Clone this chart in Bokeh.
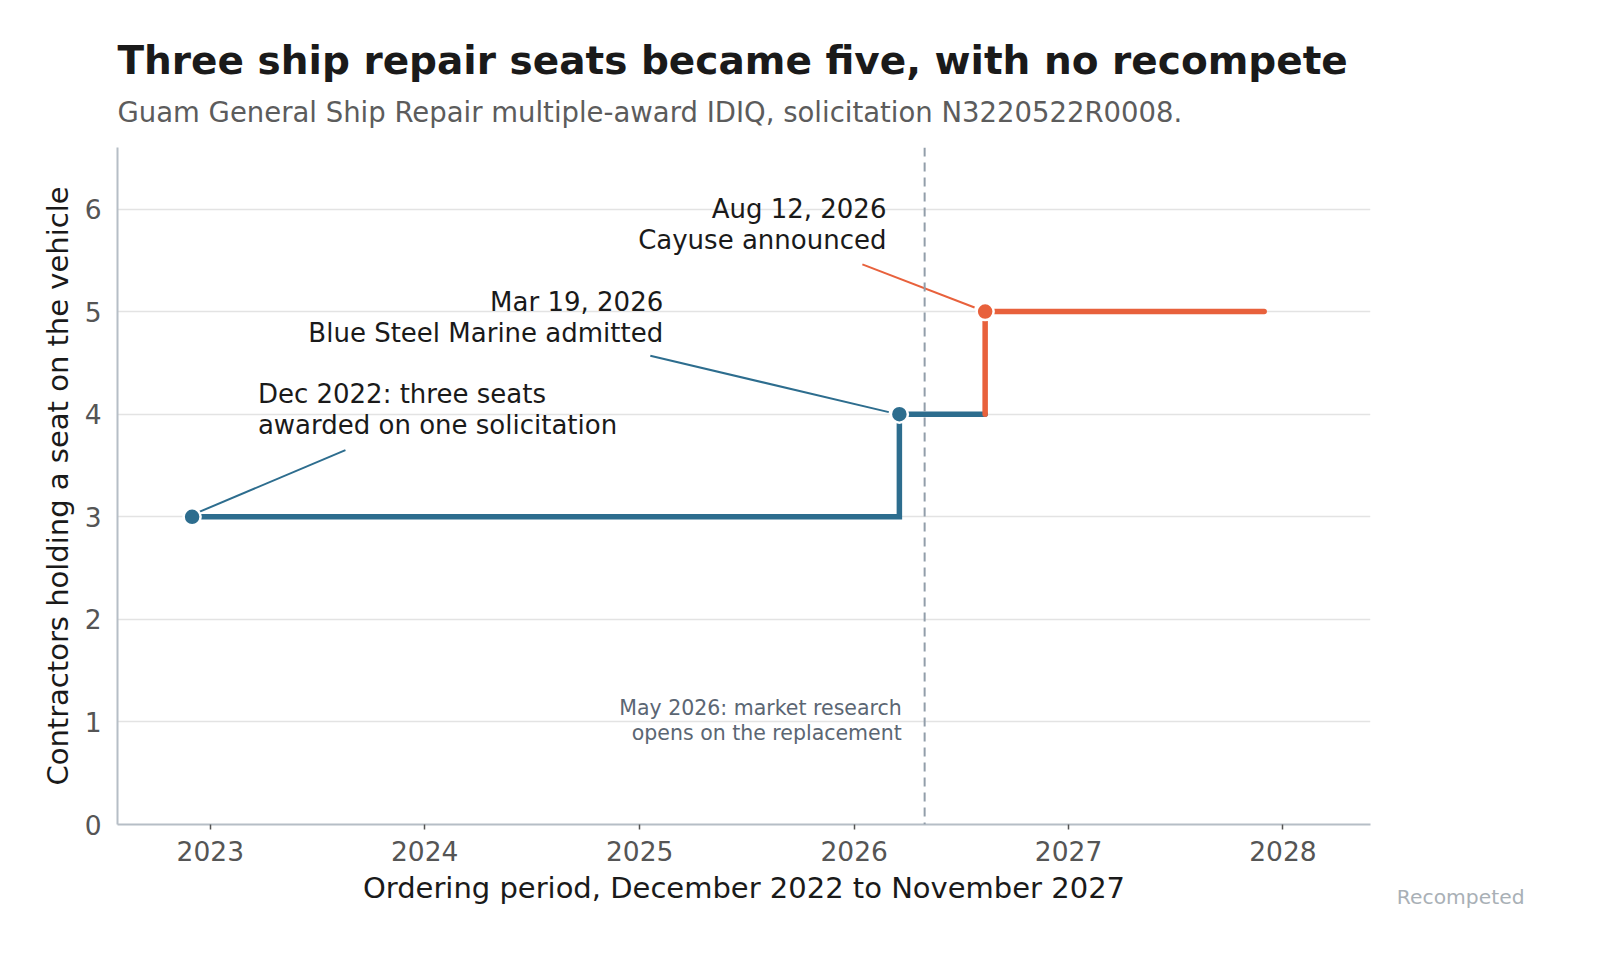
import numpy as np
import pandas as pd
from bokeh.plotting import figure
from bokeh.models import (Range1d, FixedTicker, DatetimeTickFormatter, Span, Label,
                          Title, ColumnDataSource)
from bokeh.core.properties import value
from bokeh.embed import file_html
from bokeh.resources import INLINE

# ---------------- data ----------------
event_dates = ["2022-12-01", "2026-03-19", "2026-08-12"]
seats = [3, 4, 5]
period_end = "2027-11-30"
market_research_date = "2026-05-01"
year_ticks = [2023, 2024, 2025, 2026, 2027, 2028]
y_ticks = [0, 1, 2, 3, 4, 5, 6]

ann_texts = ["Dec 2022: three seats\nawarded on one solicitation",
             "Mar 19, 2026\nBlue Steel Marine admitted",
             "Aug 12, 2026\nCayuse announced"]
ann_text_dates = ["2023-03-23", "2025-02-10", "2026-02-25"]
ann_text_y = [4.047, 4.945, 5.845]
ann_leader_start_dates = ["2023-08-19", "2025-01-19", "2026-01-15"]
ann_leader_start_y = [3.65, 4.57, 5.46]
ann_leader_end_dates = ["2022-12-10", "2026-03-01", "2026-07-25"]
ann_leader_end_y = [3.04, 4.02, 5.04]

note_text = "May 2026: market research\nopens on the replacement"
note_date = "2026-03-23"
note_y = 1.015

# ---------------- styling ----------------
BLUE = "#2d6d8e"
ORANGE = "#e8613c"
FONT = "DejaVu Sans"


def ms(dates):
    return pd.to_datetime(dates).values.astype("datetime64[ms]").astype("int64").astype(float)


ev = ms(event_dates)
end = ms([period_end])[0]

p = figure(x_axis_type="datetime", output_backend="svg", toolbar_location=None,
           width=1560, height=960,
           min_border_left=117, min_border_right=190,
           min_border_top=147, min_border_bottom=136,
           x_range=Range1d(ms(["2022-07-27"])[0], ms(["2028-05-29"])[0]),
           y_range=Range1d(0, 6.6))
p.outline_line_color = None
p.background_fill_color = "white"
p.border_fill_color = "white"

# titles
sub = Title(text="Guam General Ship Repair multiple-award IDIQ, solicitation N3220522R0008.",
            align="left", text_font=FONT, text_font_size="27.5px",
            text_font_style="normal", text_color="#5c5c5c", standoff=40)
p.add_layout(sub, "above")
ttl = Title(text="Three ship repair seats became five, with no recompete",
            align="left", text_font=FONT, text_font_size="39px",
            text_font_style="bold", text_color="#1a1a1a", standoff=-19)
p.add_layout(ttl, "above")

# grid / axes
p.xgrid.grid_line_color = None
p.ygrid.grid_line_color = "#e3e3e3"
p.ygrid.grid_line_width = 1.5
p.yaxis.ticker = FixedTicker(ticks=y_ticks)
p.xaxis.ticker = FixedTicker(ticks=list(ms([f"{y}-01-01" for y in year_ticks])))
p.xaxis.formatter = DatetimeTickFormatter(years="%Y", months="%Y", days="%Y",
                                          hours="%Y", minutes="%Y", seconds="%Y")
for ax in (p.xaxis[0], p.yaxis[0]):
    ax.axis_line_color = "#b6bec6"
    ax.axis_line_width = 2
    ax.major_label_text_font = FONT
    ax.major_label_text_font_size = "26.5px"
    ax.major_label_text_color = "#555555"
    ax.axis_label_text_font = FONT
    ax.axis_label_text_font_size = "29px"
    ax.axis_label_text_font_style = "normal"
    ax.axis_label_text_color = "#1a1a1a"
    ax.minor_tick_line_color = None
p.xaxis.axis_label = "Ordering period, December 2022 to November 2027"
p.yaxis.axis_label = "Contractors holding a seat on the vehicle"
p.xaxis.major_tick_line_color = "#555555"
p.xaxis.major_tick_line_width = 1.5
p.xaxis.major_tick_out = 5
p.xaxis.major_tick_in = 0
p.xaxis.major_label_standoff = 11
p.xaxis.axis_label_standoff = 7
p.yaxis.major_tick_line_color = None
p.yaxis.major_tick_out = 0
p.yaxis.major_tick_in = 0
p.yaxis.major_label_standoff = 16
p.yaxis.axis_label_standoff = 7

# market research marker
p.add_layout(Span(location=ms([market_research_date])[0], dimension="height",
                  line_color="#929eaa", line_width=2, line_dash="9 6"))
p.add_layout(Label(x=ms([note_date])[0], y=note_y, text=note_text,
                   text_align="right", text_baseline="middle",
                   text_font=FONT, text_font_size="20.5px",
                   text_color="#5b6673", text_line_height=1.05))

# steps
blue_x = [ev[0], ev[1], ev[1], ev[2]]
blue_y = [seats[0], seats[0], seats[1], seats[1]]
orange_x = [ev[2], ev[2], end]
orange_y = [seats[1], seats[2], seats[2]]
p.line(blue_x, blue_y, line_color=BLUE, line_width=5.5, line_cap="round", line_join="miter")
p.line(orange_x, orange_y, line_color=ORANGE, line_width=5.5, line_cap="round", line_join="miter")

# leader lines
leader_colors = [BLUE, BLUE, ORANGE]
p.segment(x0=ms(ann_leader_start_dates), y0=ann_leader_start_y,
          x1=ms(ann_leader_end_dates), y1=ann_leader_end_y,
          line_color=leader_colors, line_width=2)

# markers
marker_colors = [BLUE, BLUE, ORANGE]
p.scatter(ev, seats, size=17, fill_color=marker_colors, line_color="white", line_width=2.5)

# annotation texts
src = ColumnDataSource(dict(x=ms(ann_text_dates), y=ann_text_y, text=ann_texts,
                            align=["left", "right", "right"]))
p.text(x="x", y="y", text="text", source=src, text_align="align", text_baseline="middle",
       text_font=value(FONT), text_font_size="26px", text_color="#1a1a1a",
       text_line_height=1.03)

# footer label
foot = Title(text="Recompeted", align="right", offset=-154, text_font=FONT,
             text_font_size="20.3px", text_font_style="normal", text_color="#a9b0b6",
             vertical_align="top", standoff=-45)
p.add_layout(foot, "below")

open("out.html", "w").write(file_html(p, INLINE))
